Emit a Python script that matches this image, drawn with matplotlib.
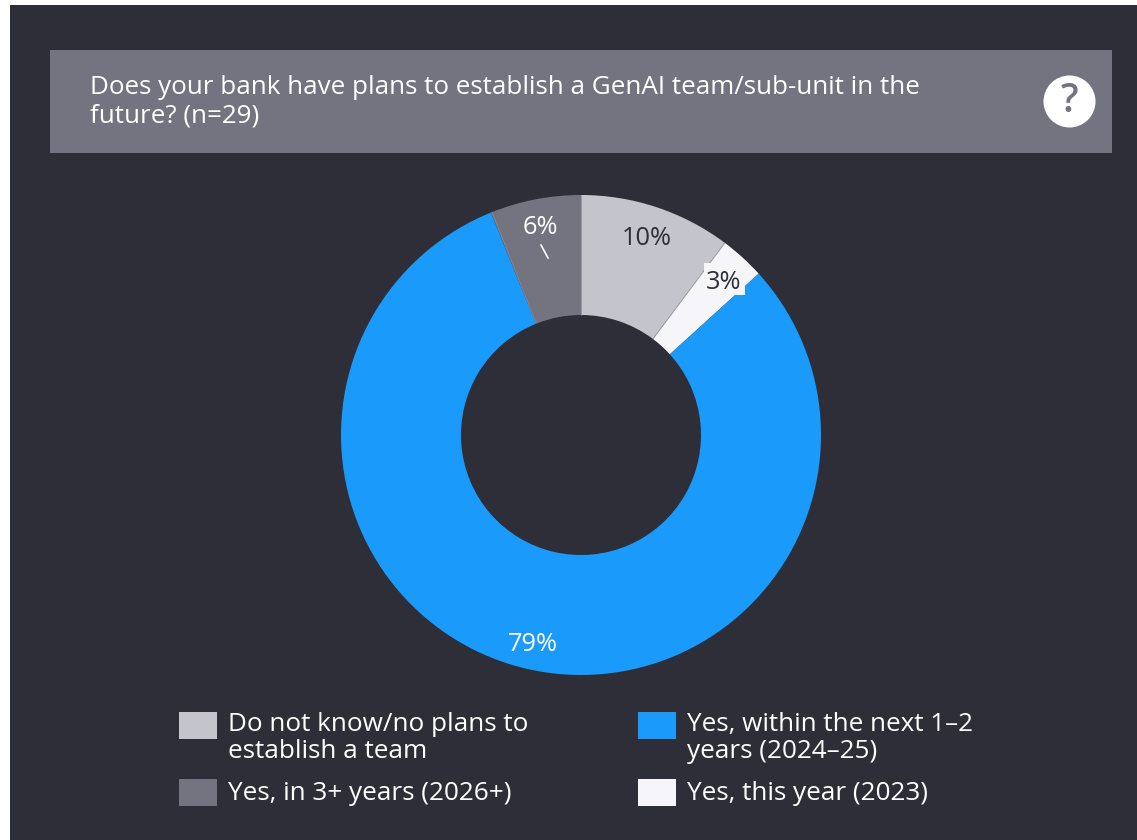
import matplotlib
matplotlib.use("Agg")
import matplotlib.pyplot as plt
from matplotlib.patches import Rectangle, Circle

# values as labelled on the chart
categories = ["Do not know/no plans to\nestablish a team", "Yes, this year (2023)",
              "Yes, within the next 1–2\nyears (2024–25)", "Yes, in 3+ years (2026+)"]
shares = [10, 3, 79, 6]
colors = ["#C4C4CD", "#F6F6FA", "#1A9AFA", "#747480"]
label_colors = ["#2E2E38", "#2E2E38", "#FFFFFF", "#FFFFFF"]
title = "Does your bank have plans to establish a GenAI team/sub-unit in the\nfuture? (n=29)"

W, H = 1137, 840
BG = "#2E2E38"

plt.rcParams["font.family"] = ["Open Sans", "DejaVu Sans"]

fig = plt.figure(figsize=(W / 100, H / 100), dpi=100, facecolor="white")
ax = fig.add_axes([0, 0, 1, 1])

# dark panel and title banner
ax.add_patch(Rectangle((10, 5), W - 10, H - 5, color=BG, lw=0, zorder=0))
ax.add_patch(Rectangle((50, 50), 1062, 103, color="#747480", lw=0, zorder=0))

# y axis runs downward here, so counterclock=True draws clockwise on screen
wedges, _ = ax.pie(shares, colors=colors, center=(581, 435), radius=240,
                   startangle=-90, counterclock=True,
                   wedgeprops=dict(width=120, linewidth=0))
ax.set_xlim(0, W)
ax.set_ylim(H, 0)
ax.set_aspect("auto")
ax.axis("off")

ax.text(90, 102, title, color="white", fontsize=18.7, va="center", ha="left",
        linespacing=1.2)

# question mark icon
ax.add_patch(Circle((1069.5, 101.5), 26, color="white", lw=0))
ax.text(1069.5, 102, "?", color="#747480", fontsize=28, fontweight="semibold",
        ha="center", va="center")

# thin separators between the lighter slices
for px, py, qx, qy in [(653, 339, 725, 243), (536, 323, 492, 212), (581, 315, 581, 195)]:
    ax.plot([px, qx], [py, qy], color="#8A8A94", lw=0.5, zorder=3)

# white halo pieces around the 3% label
ax.add_patch(Rectangle((704, 263), 8, 17, color="#F6F6FA", lw=0, zorder=4))
ax.add_patch(Rectangle((735, 284), 10, 11, color="#F6F6FA", lw=0, zorder=4))

# value labels sit where the source put them
label_pos = [(647, 238.5), (724, 282.5), (533, 644.5), (540, 227.5)]
for value, (lx, ly), c in zip(shares, label_pos, label_colors):
    ax.text(lx, ly, f"{value}%", color=c, fontsize=18.3, ha="center", va="center", zorder=5)

# leader line under the 6% label
ax.plot([541, 548], [245, 258], color="white", lw=1.2, zorder=5)

# legend, two columns
legend_pos = [(179, 712), (638, 779), (638, 712), (179, 779)]
for name, col, (sx, sy) in zip(categories, colors, legend_pos):
    ax.add_patch(Rectangle((sx, sy), 38, 27, color=col, lw=0))
    two_lines = "\n" in name
    ax.text(sx + 49, sy + (26 if two_lines else 15), name, color="white", fontsize=18.8,
            ha="left", va="center", linespacing=1.12)

fig.savefig("out.png", dpi=100, facecolor="white")
